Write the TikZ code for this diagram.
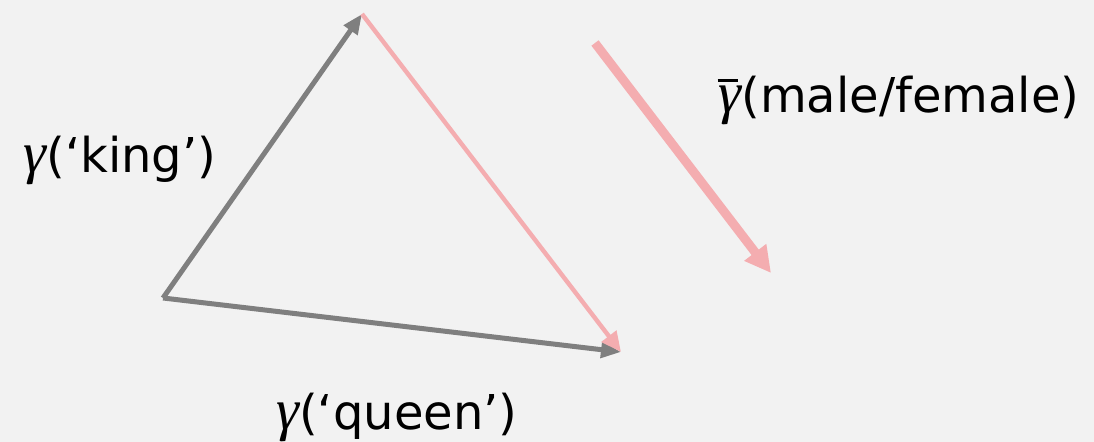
\documentclass[tikz,border=0pt]{standalone}
\usepackage{fontspec}
\setmainfont{DejaVu Sans}
\newfontfamily\greekfont{Liberation Serif}
\usetikzlibrary{
    arrows.meta,
    positioning
}
\definecolor{Cbg}{RGB}{242, 242, 242}
\definecolor{Cgray}{RGB}{127, 127, 127}
\definecolor{Cpink}{RGB}{244, 173, 176}
\newcommand{\vgamma}{{\greekfont\itshape\fontsize{29}{30}\selectfont γ}}
\newcommand{\vgammabar}{{\greekfont\itshape\fontsize{29}{30}\selectfont γ\llap{\raisebox{0.52em}{\kern0.1em\rule{0.36em}{0.05em}}\kern0.05em}}}
\tikzset{
    vgray/.style={-{Triangle[length=10pt, width=8pt]}, line width=2.5pt, Cgray},
    vpink/.style={-{Triangle[length=10pt, width=9pt]}, line width=2.2pt, Cpink},
    vbold/.style={-{Triangle[length=13pt, width=13pt]}, line width=4.5pt, Cpink},
    vlabel/.style={font=\fontsize{24}{28}\selectfont, inner sep=0pt, text=black},
}

\begin{document}
\begin{tikzpicture}[x=0.5pt, y=-0.5pt]

    % background and page size
    \fill [Cbg] (0,0) rectangle (1094,442);
    \useasboundingbox (0,0) rectangle (1094,442);

    \coordinate (orig)  at (163,298);
    \coordinate (king)  at (362,14);
    \coordinate (queen) at (621,352);
    \coordinate (dfrom) at (595,43);
    \coordinate (dto)   at (771,273);

    \draw [vgray] (orig) -- (king);
    \draw [vgray] (orig) -- (queen);
    \draw [vpink] (king) -- (queen);
    \draw [vbold] (dfrom) -- (dto);

    \node [vlabel] (lking)  at (120,160) {\vgamma(‘king’)};
    \node [vlabel] (lqueen) at (397,417) {\vgamma(‘queen’)};
    \node [vlabel] (ldiff)  at (899,100) {\vgammabar(male/female)};

\end{tikzpicture}
\end{document}
